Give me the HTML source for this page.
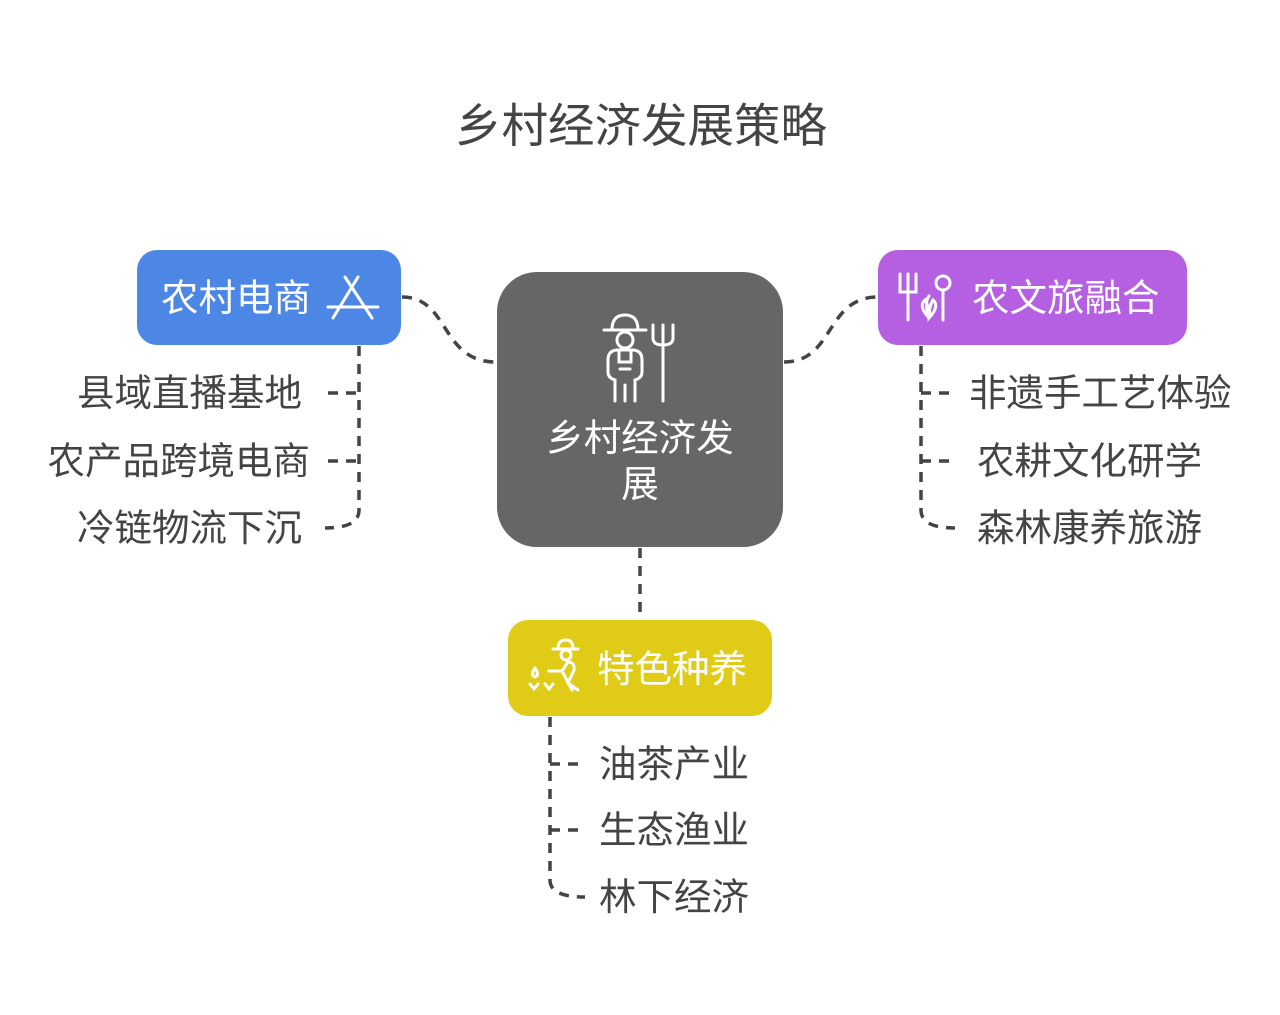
<!DOCTYPE html>
<html><head><meta charset="utf-8"><style>
body{margin:0;background:#fff;}
svg text{font-family:"Liberation Sans","Noto Sans CJK SC",sans-serif;}
</style></head><body>
<svg width="1280" height="1010" viewBox="0 0 1280 1010" xmlns="http://www.w3.org/2000/svg">
<rect width="1280" height="1010" fill="#fff"/>
<text x="641" y="142" font-size="46.5" fill="#444" text-anchor="middle">乡村经济发展策略</text>
<g fill="none" stroke="#444" stroke-width="3.5" stroke-dasharray="10 8">
<path d="M402 297 C450 297 440 362 496 362"/>
<path d="M784 362 C835 362 825 297 878 297"/>
<path d="M640 548 L640 619"/>
<path d="M359 346 L359 510 Q359 528 325 528"/>
<path d="M328 393 L359 393"/>
<path d="M328 461 L359 461"/>
<path d="M921 346 L921 510 Q921 528 955 528"/>
<path d="M921 393 L955 393"/>
<path d="M921 461 L955 461"/>
<path d="M550 717 L550 880 Q550 897 585 897"/>
<path d="M550 764 L585 764"/>
<path d="M550 830 L585 830"/>
</g>
<rect x="137" y="250" width="264" height="95" rx="20" fill="#4D87E6"/>
<text x="161" y="311" font-size="37.5" fill="#fff">农村电商</text>
<g stroke="#fff" stroke-width="3" fill="none" stroke-linecap="round">
<path d="M345 277 L372 318 M358 277 L333 318 M328 307 L378 307"/>
</g>
<rect x="878" y="250" width="309" height="95" rx="20" fill="#B55FE3"/>
<text x="972" y="311" font-size="37.5" fill="#fff">农文旅融合</text>
<g stroke="#fff" stroke-width="3" fill="none" stroke-linecap="round">
<path d="M900 274 V292 Q900 292 908 292 M908 274 V320 M916 274 V292 Q916 292 908 292"/>
<circle cx="943" cy="283" r="7"/><path d="M943 290 V320"/>
<path d="M929 318 Q918 306 925 300 Q929 306 929 318 Q940 306 933 300 Q929 306 929 318 M929 296 Q924 302 929 318"/>
</g>
<rect x="497" y="272" width="286" height="275" rx="40" fill="#666"/>
<g stroke="#fff" stroke-width="3" fill="none" stroke-linecap="round">
<path d="M604 330 H646 M612 330 Q612 315 625 315 Q638 315 638 330"/>
<circle cx="625" cy="340" r="8"/>
<path d="M615 401 V380 Q608 378 608 372 V360 Q608 350 618 350 H632 Q642 350 642 360 V372 Q642 378 635 380 V401 M625 385 V401 M619 350 V362 H631 V350 M620 369 H630"/>
<path d="M663 325 V401 M653 325 V338 Q653 345 663 345 Q673 345 673 338 V325 M663 325 V345"/>
</g>
<text x="640" y="451" font-size="37.5" fill="#fff" text-anchor="middle">乡村经济发</text>
<text x="640" y="497" font-size="37.5" fill="#fff" text-anchor="middle">展</text>
<rect x="508" y="620" width="264" height="96" rx="20" fill="#E0CB16"/>
<text x="597" y="682" font-size="37.5" fill="#fff">特色种养</text>
<g stroke="#fff" stroke-width="3" fill="none" stroke-linecap="round">
<path d="M553 649 H578 M558 649 Q558 640 566 640 Q573 640 573 649"/><circle cx="566" cy="655" r="5"/>
<path d="M549 671 L562 671 L568 662 Q575 662 574 670 L568 683 L578 690 M562 671 L572 690"/>
<path d="M535 668 Q530 675 535 677 Q540 675 535 668"/>
<path d="M530 684 L534 689 L538 684 M545 684 L549 689 L553 684"/>
</g>
<g font-size="37.5" fill="#444">
<text x="302" y="406" text-anchor="end">县域直播基地</text>
<text x="310" y="474" text-anchor="end">农产品跨境电商</text>
<text x="302" y="541" text-anchor="end">冷链物流下沉</text>
<text x="969" y="406">非遗手工艺体验</text>
<text x="977" y="474">农耕文化研学</text>
<text x="977" y="541">森林康养旅游</text>
<text x="599" y="777">油茶产业</text>
<text x="599" y="843">生态渔业</text>
<text x="599" y="910">林下经济</text>
</g>
</svg>
</body></html>
